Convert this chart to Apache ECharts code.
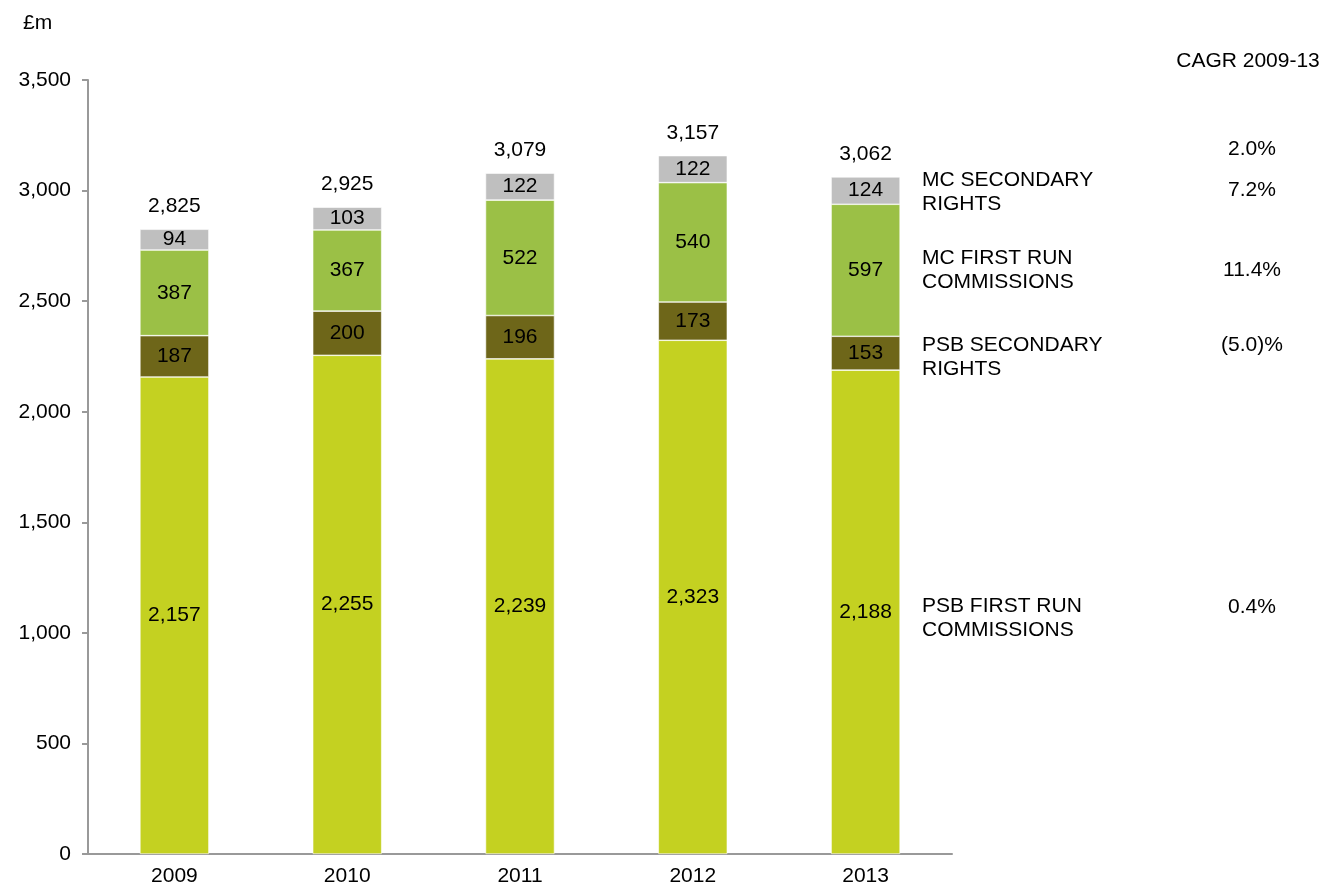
<!DOCTYPE html>
<html>
<head>
<meta charset="utf-8">
<script src="https://cdn.jsdelivr.net/npm/echarts@6/dist/echarts.min.js"></script>
<style>html,body{margin:0;padding:0;background:#fff}#c{width:1330px;height:888px}</style>
</head>
<body>
<div id="c"></div>
<script>
const years = ['2009', '2010', '2011', '2012', '2013'];
const psbFirstRun = [2157, 2255, 2239, 2323, 2188];
const psbSecondary = [187, 200, 196, 173, 153];
const mcFirstRun = [387, 367, 522, 540, 597];
const mcSecondary = [94, 103, 122, 122, 124];
const totals = [2825, 2925, 3079, 3157, 3062];
const seriesNames = ['PSB FIRST RUN\nCOMMISSIONS', 'PSB SECONDARY\nRIGHTS', 'MC FIRST RUN\nCOMMISSIONS', 'MC SECONDARY\nRIGHTS'];
const cagr = ['0.4%', '(5.0)%', '11.4%', '7.2%'];
const cagrTotal = '2.0%';
const colors = ['#C4D121', '#6E6619', '#9BC046', '#BFBFBF'];

const font = 'Liberation Sans, Arial, sans-serif';
const FS = 21;
const fmt = v => v.toLocaleString('en-US');

const chart = echarts.init(document.getElementById('c'));
const segData = [psbFirstRun, psbSecondary, mcFirstRun, mcSecondary];

const series = segData.map((d, i) => ({
  type: 'bar',
  name: seriesNames[i],
  stack: 'total',
  barWidth: 69,
  data: d,
  itemStyle: { color: colors[i], borderColor: '#ffffff', borderWidth: 0.6 },
  label: {
    show: true,
    position: 'inside',
    color: '#000',
    fontFamily: font,
    fontSize: FS,
    formatter: p => fmt(p.value)
  }
}));
series.push({
  type: 'scatter',
  data: totals,
  symbolSize: 1,
  itemStyle: { color: '#ffffff', opacity: 0 },
  label: {
    show: true,
    position: 'top',
    distance: 12,
    color: '#000000',
    opacity: 1,
    fontFamily: font,
    fontSize: FS,
    formatter: p => fmt(p.value)
  },
  z: 5
});

chart.setOption({
  animation: false,
  grid: { left: 88, right: 378, top: 80, bottom: 34 },
  xAxis: {
    type: 'category',
    data: years,
    axisLine: { lineStyle: { color: '#999999', width: 2 } },
    axisTick: { show: false },
    axisLabel: { color: '#000', fontFamily: font, fontSize: FS, margin: 12 }
  },
  yAxis: {
    type: 'value',
    min: 0,
    max: 3500,
    interval: 500,
    axisLine: { show: true, lineStyle: { color: '#999999', width: 2 } },
    axisTick: { show: true, length: 6, lineStyle: { color: '#999999', width: 2 } },
    splitLine: { show: false },
    axisLabel: { color: '#000', fontFamily: font, fontSize: FS, margin: 17, formatter: v => fmt(v) }
  },
  series: series
});

// Annotations at the right, aligned to the 2013 bar segments
const last = years.length - 1;
const graphics = [];
let base = 0;
const labelX = 922;
const cagrX = 1252;
const nameOffsets = [6, 4, 0, 2];
const cagrOffsets = [-5, -8, 0, 0];
segData.forEach((d, i) => {
  const mid = base + d[last] / 2;
  base += d[last];
  const y = chart.convertToPixel({ gridIndex: 0 }, [last, mid])[1];
  graphics.push({
    type: 'text', x: labelX, y: y + nameOffsets[i],
    style: { text: seriesNames[i], font: FS + 'px ' + font, fill: '#000', lineHeight: 24, textVerticalAlign: 'middle' }
  });
  graphics.push({
    type: 'text', x: cagrX, y: y + cagrOffsets[i],
    style: { text: cagr[i], font: FS + 'px ' + font, fill: '#000', textAlign: 'center', textVerticalAlign: 'middle' }
  });
});
const yTot = chart.convertToPixel({ gridIndex: 0 }, [last, totals[last]])[1];
graphics.push({
  type: 'text', x: cagrX, y: yTot - 28,
  style: { text: cagrTotal, font: FS + 'px ' + font, fill: '#000', textAlign: 'center', textVerticalAlign: 'middle' }
});
graphics.push({
  type: 'text', x: 1248, y: 61,
  style: { text: 'CAGR 2009-13', font: FS + 'px ' + font, fill: '#000', textAlign: 'center', textVerticalAlign: 'middle' }
});
graphics.push({
  type: 'text', x: 23, y: 23,
  style: { text: '£m', font: FS + 'px ' + font, fill: '#000', textVerticalAlign: 'middle' }
});
chart.setOption({ graphic: graphics });
</script>
</body>
</html>
